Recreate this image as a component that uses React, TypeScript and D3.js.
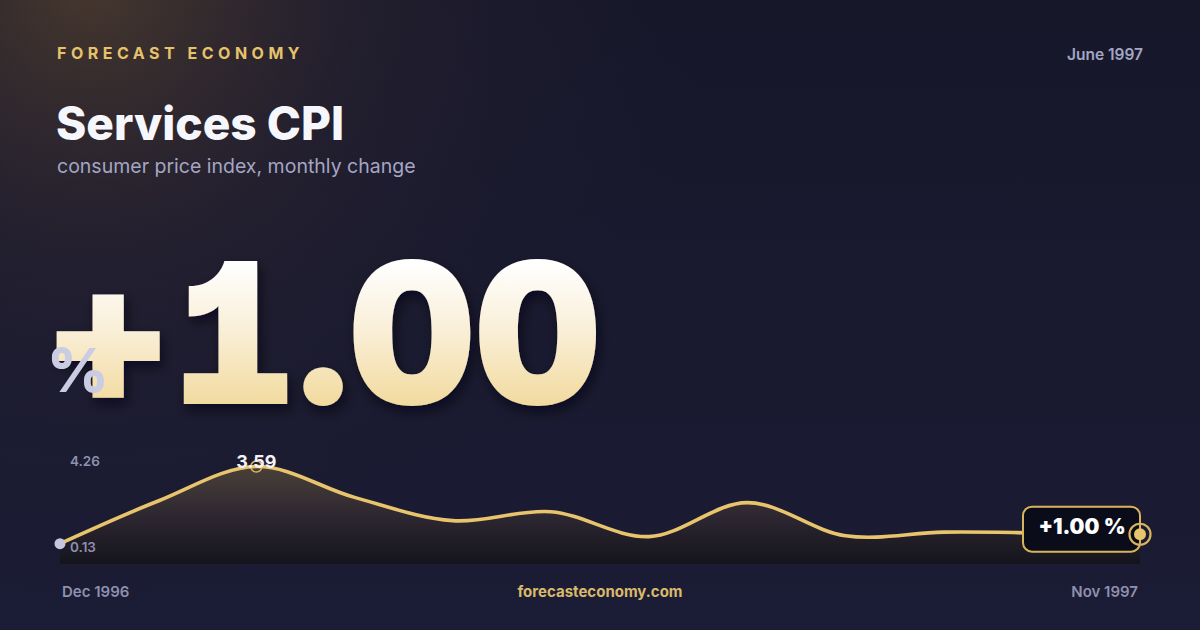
import React from 'react';
import * as d3 from 'd3';

const months = [
  'Dec 1996', 'Jan 1997', 'Feb 1997', 'Mar 1997', 'Apr 1997', 'May 1997',
  'Jun 1997', 'Jul 1997', 'Aug 1997', 'Sep 1997', 'Oct 1997', 'Nov 1997',
];
const cpiChange = [0.64, 2.27, 3.59, 2.41, 1.52, 1.86, 0.91, 2.21, 0.94, 1.08, 1.05, 1.0];
const yTickLabels = [0.13, 4.26];

const brand = 'FORECAST ECONOMY';
const title = 'Services CPI';
const subtitle = 'consumer price index, monthly change';
const dateLabel = 'June 1997';
const siteUrl = 'forecasteconomy.com';

const W = 1200;
const H = 630;
const FONT = 'Inter, "Noto Sans", sans-serif';

const App: React.FC = () => {
  const x = d3.scalePoint<string>().domain(months).range([60, 1140]);
  const y = d3.scaleLinear().domain([yTickLabels[0], yTickLabels[1]]).range([557, 449]);
  const baseY = 564;

  const pts = months.map((m, i) => ({ m, v: cpiChange[i] }));
  const curve = d3.curveCatmullRom.alpha(0.5);

  const line = d3.line<{ m: string; v: number }>()
    .x(d => x(d.m) as number)
    .y(d => y(d.v))
    .curve(curve);

  const area = d3.area<{ m: string; v: number }>()
    .x(d => x(d.m) as number)
    .y0(baseY)
    .y1(d => y(d.v))
    .curve(curve);

  const fmt2 = d3.format('.2f');
  const fmtSigned = d3.format('+.2f');

  const peakIdx = d3.maxIndex(cpiChange);
  const peak = pts[peakIdx];
  const first = pts[0];
  const last = pts[pts.length - 1];
  const lastX = x(last.m) as number;
  const lastY = y(last.v);

  const boxW = 117;
  const boxH = 45;

  return (
    <svg
      width={W}
      height={H}
      viewBox={`0 0 ${W} ${H}`}
      style={{ position: 'fixed', left: 0, top: 0, display: 'block' }}
      fontFamily={FONT}
    >
      <defs>
        <linearGradient id="bg" x1="0" y1="0" x2="0" y2="1">
          <stop offset="0%" stopColor="#17172a" />
          <stop offset="100%" stopColor="#1b1c35" />
        </linearGradient>
        <radialGradient id="glow" cx="90" cy="-20" r="620" gradientUnits="userSpaceOnUse">
          <stop offset="0%" stopColor="#4a3a2e" stopOpacity="0.95" />
          <stop offset="45%" stopColor="#2c2530" stopOpacity="0.5" />
          <stop offset="100%" stopColor="#1a1a2e" stopOpacity="0" />
        </radialGradient>
        <linearGradient id="bigFill" x1="0" y1="262" x2="0" y2="406" gradientUnits="userSpaceOnUse">
          <stop offset="0%" stopColor="#ffffff" />
          <stop offset="50%" stopColor="#f9eed5" />
          <stop offset="100%" stopColor="#f2da9e" />
        </linearGradient>
        <linearGradient id="areaFill" x1="0" y1="462" x2="0" y2={baseY} gradientUnits="userSpaceOnUse">
          <stop offset="0%" stopColor="#4d4239" />
          <stop offset="55%" stopColor="#2c2630" />
          <stop offset="100%" stopColor="#15141d" />
        </linearGradient>
        <filter id="bigShadow" x="-10%" y="-10%" width="130%" height="140%">
          <feDropShadow dx="3" dy="6" stdDeviation="6" floodColor="#05050d" floodOpacity="0.6" />
        </filter>
      </defs>

      <rect width={W} height={H} fill="url(#bg)" />
      <rect width={W} height={H} fill="url(#glow)" />

      {/* header */}
      <text x={57} y={59.3} fill="#e6c36a" fontSize={16} fontWeight={700} letterSpacing={4.5}>
        {brand}
      </text>
      <text x={1143} y={60} fill="#a3a5c3" fontSize={15.5} fontWeight={600} textAnchor="end">
        {dateLabel}
      </text>
      <text x={56} y={139.5} fill="#f6f7fc" fontSize={46} fontWeight={800}>
        {title}
      </text>
      <text x={57} y={173} fill="#a4a6c4" fontSize={19.5} fontWeight={400}>
        {subtitle}
      </text>

      {/* headline value */}
      <text
        x={45}
        y={404}
        fill="url(#bigFill)"
        fontSize={196}
        fontWeight={900}
        letterSpacing={-0.5}
        filter="url(#bigShadow)"
        style={{ fontVariantNumeric: 'tabular-nums', fontFeatureSettings: '"tnum" 1, "cv01" 1' }}
      >
        {fmtSigned(last.v)}
      </text>
      <text x={47} y={391.7} fill="#c9cce3" fontSize={60} fontWeight={800}>
        %
      </text>

      {/* sparkline */}
      <path d={area(pts) ?? ''} fill="url(#areaFill)" />
      <path d={line(pts) ?? ''} fill="none" stroke="#e8c46c" strokeWidth={3.6} strokeLinejoin="round" />

      {yTickLabels.map((t, i) => (
        <text
          key={t}
          x={70}
          y={i === 0 ? 552.3 : 466.3}
          fill="#8e90b0"
          fontSize={13.5}
          fontWeight={600}
        >
          {fmt2(t)}
        </text>
      ))}

      <circle cx={x(first.m) as number} cy={y(first.v)} r={5.5} fill="#c5c8dc" />

      <circle cx={x(peak.m) as number} cy={y(peak.v)} r={5.5} fill="none" stroke="#d9b45e" strokeWidth={1.5} />
      <text
        x={x(peak.m) as number}
        y={y(peak.v) + 1.5}
        fill="#f2f2f7"
        fontSize={18}
        fontWeight={700}
        textAnchor="middle"
      >
        {fmt2(peak.v)}
      </text>

      <rect
        x={lastX - boxW}
        y={lastY - 27.6}
        width={boxW}
        height={boxH}
        rx={9}
        fill="#0b0c1a"
        stroke="#d9b45e"
        strokeWidth={2}
      />
      <text
        x={lastX - boxW / 2 + 0.5}
        y={lastY}
        fill="#ffffff"
        fontSize={21}
        fontWeight={900}
        textAnchor="middle"
      >
        {`${fmtSigned(last.v)} %`}
      </text>
      <circle cx={lastX} cy={lastY} r={10.5} fill="none" stroke="#d9b45e" strokeWidth={2.2} />
      <circle cx={lastX} cy={lastY} r={6} fill="#e8c46c" />

      {/* footer */}
      <text x={62} y={597} fill="#8e90ae" fontSize={15} fontWeight={600}>
        {months[0]}
      </text>
      <text x={600} y={597} fill="#dab96b" fontSize={15} fontWeight={700} textAnchor="middle">
        {siteUrl}
      </text>
      <text x={1138} y={597} fill="#8e90ae" fontSize={15} fontWeight={600} textAnchor="end">
        {months[months.length - 1]}
      </text>
    </svg>
  );
};

export default App;
